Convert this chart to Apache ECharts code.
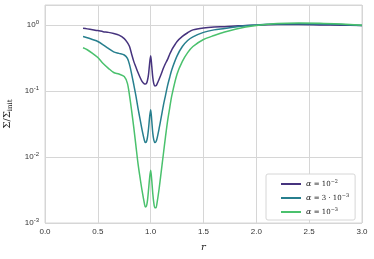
<!DOCTYPE html>
<html><head><meta charset="utf-8">
<script src="https://cdn.jsdelivr.net/npm/echarts@6/dist/echarts.min.js"></script>
<style>html,body{margin:0;padding:0;background:#fff}#c{width:374px;height:259px}</style>
</head><body><div id="c"></div>
<script>
const r = [0.36,0.4,0.45,0.5,0.55,0.6,0.65,0.7,0.75,0.78,0.8,0.82,0.84,0.86,0.88,0.9,0.92,0.94,0.95,0.96,0.97,0.98,0.99,1.0,1.01,1.02,1.03,1.04,1.05,1.06,1.08,1.1,1.12,1.14,1.16,1.18,1.2,1.25,1.3,1.35,1.4,1.5,1.6,1.7,1.8,1.9,2.0,2.2,2.4,2.6,2.8,3.0];
const alpha1e2 = [0.89,0.87,0.845,0.82,0.79,0.77,0.74,0.7,0.62,0.54,0.47,0.36,0.28,0.23,0.19,0.16,0.138,0.128,0.127,0.13,0.145,0.18,0.26,0.34,0.24,0.16,0.128,0.119,0.12,0.127,0.15,0.18,0.22,0.26,0.3,0.36,0.42,0.56,0.67,0.76,0.84,0.9,0.93,0.94,0.96,0.98,0.99,1.01,1.01,1.0,0.99,0.98];
const alpha3e3 = [0.665,0.64,0.6,0.56,0.5,0.44,0.39,0.37,0.35,0.31,0.25,0.18,0.125,0.085,0.055,0.037,0.025,0.018,0.0165,0.017,0.02,0.027,0.04,0.052,0.036,0.023,0.018,0.0165,0.017,0.019,0.027,0.04,0.06,0.085,0.12,0.16,0.21,0.34,0.47,0.58,0.66,0.77,0.84,0.88,0.93,0.97,1.0,1.03,1.04,1.03,1.01,0.98];
const alpha1e3 = [0.45,0.42,0.37,0.32,0.26,0.22,0.19,0.18,0.165,0.13,0.085,0.05,0.028,0.015,0.008,0.0048,0.003,0.002,0.00175,0.0018,0.0022,0.0032,0.0048,0.0063,0.0045,0.0028,0.002,0.0017,0.0017,0.002,0.0033,0.006,0.011,0.02,0.035,0.055,0.085,0.18,0.28,0.38,0.47,0.6,0.69,0.78,0.86,0.93,0.98,1.05,1.07,1.06,1.03,0.99];
const seriesNames = ['a1','a2','a3'];
const legendLabels = {a1:'{i|α}{a| = 10}{s|−2}', a2:'{i|α}{a| = 3 · 10}{s|−3}', a3:'{i|α}{a| = 10}{s|−3}'};
const colors = ['#46337e','#277f8e','#4ac16d'];
function pair(ys){return r.map((x,i)=>[x,ys[i]]);}
const chart = echarts.init(document.getElementById('c'));
const vals=[alpha1e2,alpha3e3,alpha1e3];
chart.setOption({
  animation:false,
  backgroundColor:'#fff',
  grid:{left:45,right:12,top:5,bottom:36,show:true,borderColor:'#d6d6d6',borderWidth:1,outerBoundsMode:'none',containLabel:false},
  xAxis:{type:'value',min:0,max:3,interval:0.5,
    axisLine:{show:false},axisTick:{show:false},
    splitLine:{lineStyle:{color:'#d6d6d6',width:1}},
    axisLabel:{color:'#333',fontSize:8,fontFamily:'Liberation Sans',margin:5,formatter:v=>v.toFixed(1)},
    name:'r',nameLocation:'middle',nameGap:19,
    nameTextStyle:{fontFamily:'DejaVu Serif',fontStyle:'italic',fontSize:10,color:'#222'}},
  yAxis:{type:'log',logBase:10,min:0.001,max:2,
    axisLine:{show:false},axisTick:{show:false},
    splitLine:{lineStyle:{color:'#d6d6d6',width:1}},
    axisLabel:{color:'#333',fontSize:8,fontFamily:'Liberation Sans',margin:6,
      formatter:v=>{const l=Math.log10(v);const k=Math.round(l);if(Math.abs(l-k)>1e-6)return '';return '{b|10}{s|'+(k<0?'-'+(-k):''+k)+'}';},
      rich:{b:{fontSize:8,color:'#333',fontFamily:'Liberation Sans'},s:{fontSize:6,color:'#333',fontFamily:'Liberation Sans',verticalAlign:'top',padding:[0,0,5,0]}}},
    name:'{a|Σ/Σ}{s|init}',nameLocation:'middle',nameGap:27,nameRotate:90,
    nameTextStyle:{rich:{a:{fontFamily:'DejaVu Serif',fontSize:10,color:'#222'},s:{fontFamily:'DejaVu Serif',fontSize:7,color:'#222',padding:[6,0,0,0]}}}},
  legend:{orient:'vertical',left:266,top:174,padding:[5,6,4,15],itemGap:5,
    itemWidth:20,itemHeight:2,icon:'rect',backgroundColor:'#fff',borderColor:'#d6d6d6',borderWidth:1,borderRadius:2,
    formatter:n=>legendLabels[n],
    textStyle:{padding:[0,0,0,0],rich:{i:{fontFamily:'DejaVu Serif',fontStyle:'italic',fontSize:8,color:'#222'},a:{fontFamily:'DejaVu Serif',fontSize:7,color:'#222'},s:{fontFamily:'DejaVu Serif',fontSize:5,color:'#222',padding:[0,0,5,0]}}}},
  series:seriesNames.map((n,i)=>({name:n,type:'line',data:pair(vals[i]),symbol:'none',smooth:0.3,
    lineStyle:{color:colors[i],width:1.5},itemStyle:{color:colors[i]}}))
});
</script></body></html>
